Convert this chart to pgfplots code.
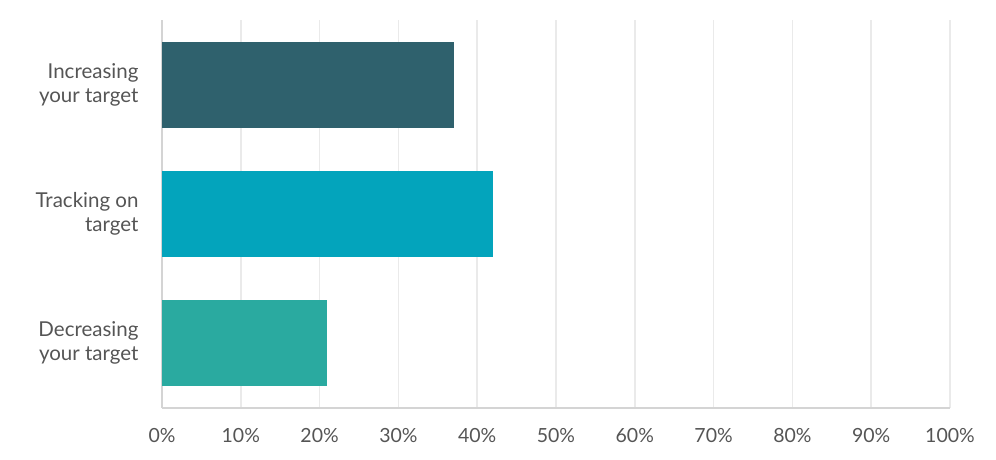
\documentclass[border=0pt]{standalone}
\usepackage{pgfplots}
\pgfplotsset{compat=1.18}
\usepackage{fontspec}
\setmainfont{Lato}
\usetikzlibrary{calc}
\definecolor{barA}{HTML}{2F616D}
\definecolor{barB}{HTML}{03A4BC}
\definecolor{barC}{HTML}{2AAAA0}
\definecolor{txt}{HTML}{555555}
\definecolor{gridc}{HTML}{EAEAEA}
\definecolor{axc}{HTML}{D4D4D4}
\begin{document}
\begin{tikzpicture}
\begin{axis}[
  name=ax,
  scale only axis,
  width=788pt, height=388pt,
  xbar, bar width=86pt, bar shift=0pt,
  xmin=0, xmax=100,
  ymin=-0.5, ymax=2.5,
  xtick={0,10,...,100},
  xticklabel={\pgfmathprintnumber{\tick}\%},
  ytick={0,1,2},
  yticklabels={{Decreasing\\your target},{Tracking on\\target},{Increasing\\your target}},
  yticklabel style={align=right, font=\fontsize{20.5}{24}\selectfont, text=txt, xshift=-20pt},
  xticklabel style={font=\fontsize{19.5}{22}\selectfont, text=txt, yshift=-17pt},
  /pgf/number format/assume math mode=true,
  major tick length=0pt,
  xmajorgrids, grid style={gridc, line width=1.5pt},
  axis x line*=bottom, axis y line*=left,
  x axis line style={axc, line width=2pt, -},
  y axis line style={axc, line width=2pt, -},
  axis line style={-},
]
\addplot[draw=none, fill=barC] coordinates {(21,0)};
\addplot[draw=none, fill=barB] coordinates {(42,1)};
\addplot[draw=none, fill=barA] coordinates {(37,2)};
\end{axis}
\useasboundingbox ($(ax.south west)+(-162pt,-52pt)$) rectangle ++(996pt,460pt);
\end{tikzpicture}
\end{document}
